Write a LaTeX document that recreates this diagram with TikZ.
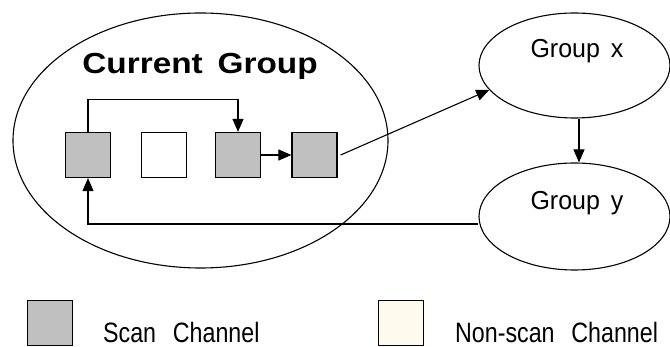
\documentclass[tikz,border=0pt]{standalone}
\usepackage{fontspec}
\setmainfont{Liberation Sans}
\newfontfamily\titlefont[FakeStretch=1.15,WordSpace=1.6]{Liberation Sans}
\newfontfamily\grpfont[FakeStretch=0.96,WordSpace=1.6]{Liberation Sans}
\newfontfamily\legendfont[FakeStretch=0.83,WordSpace=2.6]{Liberation Sans}
\usetikzlibrary{arrows.meta,shapes.geometric}
\definecolor{scangray}{HTML}{C0C0C0}
\definecolor{cream}{HTML}{FFF9EE}
\tikzset{
  chan/.style={draw,line width=1.2pt,minimum size=45pt,inner sep=0pt},
  grp/.style={draw,ellipse,line width=1.1pt,inner sep=0pt},
  link/.style={line width=1.1pt,-{Triangle[length=13pt,width=11pt]}},
  grplabel/.style={anchor=base,inner sep=0pt,font=\grpfont\fontsize{26}{30}\selectfont},
  legendlabel/.style={anchor=base west,inner sep=0pt,font=\legendfont\fontsize{28}{32}\selectfont}
}
\begin{document}
\begin{tikzpicture}[x=1pt,y=-1pt]
\useasboundingbox (0,0) rectangle (670,347);
% groups
\node[grp,minimum width=375pt,minimum height=255pt] (cur) at (200.5,140.5) {};
\node[anchor=base,inner sep=0pt,font=\titlefont\bfseries\fontsize{29}{33}\selectfont] (title) at (200,74) {Current Group};
\node[grp,minimum width=191pt,minimum height=105pt] (gx) at (574.5,65.5) {};
\node[grp,minimum width=191pt,minimum height=107pt] (gy) at (574.5,216.5) {};
\node[grplabel] (gxlabel) at (577,58) {Group x};
\node[grplabel] (gylabel) at (577,210) {Group y};
% channels
\foreach \n/\x/\c in {1/88/scangray,2/164/white,3/238/scangray,4/314.5/scangray}
  \node[chan,fill=\c] (s\n) at (\x,155) {};
% links
\draw[link] (s1.north) -- ++(0,-32) -| (s3.north);
\draw[link] (s3.east) -- (s4.west);
\draw[link] ([xshift=3pt]s4.east) -- (gx.196);
\draw[link] ([xshift=4.5pt]gx.south) -- ([xshift=4.5pt]gy.north);
\draw[link] ([yshift=-7.5pt]gy.west) -| (s1.south);
% legend
\node[chan,fill=scangray] (keyscan) at (50,323) {};
\node[chan,fill=cream] (keynon) at (401,323) {};
\node[legendlabel] (keyscanlabel) at (103,343) {Scan Channel};
\node[legendlabel] (keynonlabel) at (455,343) {Non-scan Channel};
\end{tikzpicture}
\end{document}
